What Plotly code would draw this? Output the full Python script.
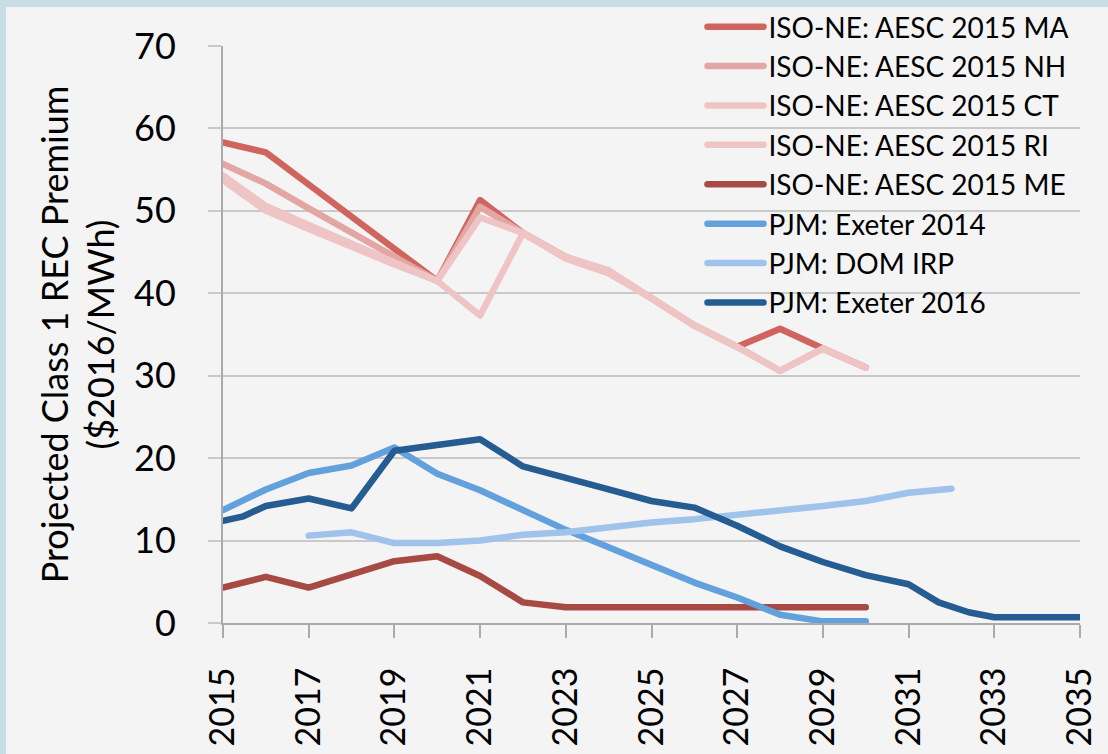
import plotly.graph_objects as go

# Projected Class 1 REC premium ($2016/MWh) by forecast year
iso_years = list(range(2015, 2031))
ma = [58.3, 57.1, 53.2, 49.3, 45.4, 41.5, 51.3, 47.3, 44.4, 42.6, 39.4, 36.1, 33.5, 35.7, 33.3, 31.0]
nh = [55.7, 53.3, 50.3, 47.4, 44.4, 41.5, 50.5, 47.3, 44.4, 42.6, 39.4, 36.1, 33.5, 30.6, 33.3, 31.0]
ct = [54.3, 50.6, 48.3, 46.0, 43.7, 41.5, 49.2, 47.3, 44.4, 42.8, 39.4, 36.1, 33.5, 30.6, 33.3, 31.0]
ri = [53.7, 50.0, 47.8, 45.6, 43.5, 41.5, 37.3, 47.3, 44.2, 42.4, 39.4, 36.1, 33.5, 30.6, 33.3, 31.0]
me = [4.3, 5.6, 4.3, 6.0, 7.5, 8.1, 5.7, 2.5, 1.9, 1.9, 1.9, 1.9, 1.9, 1.9, 1.9, 1.9]

exeter2014_years = list(range(2015, 2031))
exeter2014 = [13.7, 16.2, 18.2, 19.1, 21.3, 18.1, 16.1, 13.7, 11.3, 9.2, 7.0, 4.9, 3.1, 1.0, 0.2, 0.2]

dom_years = list(range(2017, 2033))
dom_irp = [10.6, 11.0, 9.7, 9.7, 10.0, 10.7, 11.0, 11.6, 12.2, 12.6, 13.1, 13.7, 14.2, 14.8, 15.8, 16.3]

exeter2016_years = [2015, 2015.45, 2016, 2017, 2018, 2019, 2020, 2021, 2022, 2023, 2024, 2025,
                    2026, 2027, 2028, 2029, 2030, 2031, 2031.7, 2032.4, 2033, 2034, 2035]
exeter2016 = [12.4, 12.9, 14.2, 15.1, 13.9, 20.9, 21.6, 22.3, 19.0, 17.5, 16.2, 14.8,
              14.0, 11.8, 9.3, 7.4, 5.8, 4.7, 2.5, 1.3, 0.7, 0.7, 0.7]

series = [
    ("ISO-NE: AESC 2015 MA", iso_years, ma, "#CF655E"),
    ("ISO-NE: AESC 2015 NH", iso_years, nh, "#E2A7A4"),
    ("ISO-NE: AESC 2015 CT", iso_years, ct, "#EEC5C4"),
    ("ISO-NE: AESC 2015 RI", iso_years, ri, "#EEC5C4"),
    ("ISO-NE: AESC 2015 ME", iso_years, me, "#A84A44"),
    ("PJM: Exeter 2014", exeter2014_years, exeter2014, "#63A1DC"),
    ("PJM: DOM IRP", dom_years, dom_irp, "#9FC3EA"),
    ("PJM: Exeter 2016", exeter2016_years, exeter2016, "#255C92"),
]

FONT = "Lato"
GRID = "#C9C9C9"
AXIS = "#ABABAB"

fig = go.Figure()
for name, xs, ys, color in series:
    fig.add_trace(go.Scatter(x=xs, y=ys, mode="lines", name=name,
                             line=dict(color=color, width=6.5),
                             hoverinfo="skip"))

fig.update_layout(
    width=1108, height=754,
    template="none",
    margin=dict(l=223, r=28, t=46, b=131, pad=0, autoexpand=False),
    paper_bgcolor="#C8DEE4",
    plot_bgcolor="rgba(0,0,0,0)",
    font=dict(family=FONT, size=36, color="#000000"),
    showlegend=True,
    legend=dict(
        x=0.5595, y=1.0763,
        xanchor="left", yanchor="top",
        bgcolor="rgba(0,0,0,0)",
        font=dict(family=FONT, size=28, color="#000000"),
        tracegroupgap=0, itemwidth=56,
    ),
    # light grey chart panel, inset from the top-left edges
    shapes=[dict(type="rect", xref="paper", yref="paper", layer="below",
                 x0=-0.2532, x1=1.5, y0=-0.5, y1=1.0676,
                 fillcolor="#F4F4F4", line=dict(width=0))],
)

fig.update_xaxes(
    range=[2015, 2035], tick0=2015, dtick=2,
    showgrid=False, zeroline=False,
    showline=True, linecolor=AXIS, linewidth=2,
    ticks="outside", ticklen=13, tickwidth=2, tickcolor=AXIS,
    tickangle=-90, ticklabelstandoff=16,
    tickfont=dict(family=FONT, size=34),
    automargin=False,
)
fig.update_yaxes(
    range=[0, 70], tick0=0, dtick=10,
    showgrid=True, gridcolor=GRID, gridwidth=2,
    zeroline=False,
    showline=True, linecolor=AXIS, linewidth=2,
    ticks="outside", ticklen=13, tickwidth=2, tickcolor=GRID,
    ticklabelstandoff=25,
    tickfont=dict(family=FONT, size=36),
    title=dict(text="Projected Class 1 REC Premium<br>($2016/MWh)",
               font=dict(family=FONT, size=36), standoff=8),
    automargin=False,
)

round_lines = ("var s=document.createElement('style');"
               "s.textContent='.js-line{stroke-linecap:round;stroke-linejoin:round}';"
               "document.head.appendChild(s);")
fig.write_html("out.html", post_script=round_lines)
